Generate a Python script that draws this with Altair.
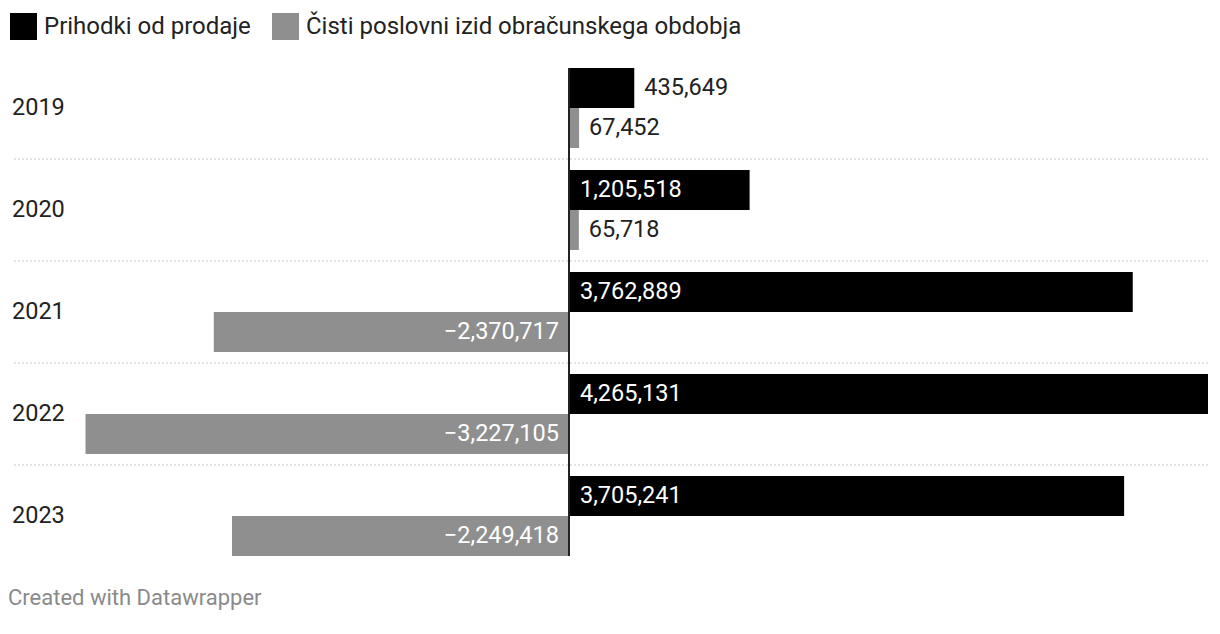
import altair as alt
import pandas as pd

years = ["2019", "2020", "2021", "2022", "2023"]
series_names = ["Prihodki od prodaje", "Čisti poslovni izid obračunskega obdobja"]
prihodki = [435649, 1205518, 3762889, 4265131, 3705241]
cisti = [67452, 65718, -2370717, -3227105, -2249418]
colors = ["#000000", "#8f8f8f"]

rows = []
for i, y in enumerate(years):
    rows.append({"year": y, "series": series_names[0], "value": prihodki[i]})
    rows.append({"year": y, "series": series_names[1], "value": cisti[i]})
df = pd.DataFrame(rows)
years_df = pd.DataFrame({"year": years})
sep_df = pd.DataFrame({"year": years[:-1]})

FONT = "Roboto"
FS = 23.5
W, H = 1196, 510

xscale = alt.Scale(domain=[-3717800, 4265131], nice=False, zero=False)
yscale = alt.Scale(domain=years, paddingInner=0, paddingOuter=0)
yoff = alt.YOffset("series:N", sort=series_names,
                   scale=alt.Scale(domain=series_names, paddingInner=0, paddingOuter=0.275))

base = alt.Chart(df).transform_calculate(
    zero="0",
    inside="abs(datum.value) > 800000",
)

seps = alt.Chart(sep_df).mark_rule(color="#c8c8c8", strokeWidth=1, strokeDash=[2, 2]).encode(
    y=alt.Y("year:N", scale=yscale, axis=None, bandPosition=1)
)

bars = base.mark_bar(strokeWidth=0).encode(
    x=alt.X("value:Q", scale=xscale, axis=None),
    y=alt.Y("year:N", scale=yscale, axis=None),
    yOffset=yoff,
    color=alt.Color("series:N", sort=series_names,
                    scale=alt.Scale(domain=series_names, range=colors),
                    legend=alt.Legend(title=None, orient="none", direction="horizontal",
                                      legendX=-2, legendY=-44, symbolType="square",
                                      symbolSize=729, symbolStrokeWidth=0, symbolOpacity=1,
                                      labelFont=FONT, labelFontSize=24, labelColor="#222222",
                                      labelLimit=0, labelOffset=7, columnPadding=21, padding=0)),
)

zero_line = alt.Chart(pd.DataFrame({"v": [0]})).mark_rule(color="#222222", strokeWidth=2).encode(
    x=alt.X("v:Q", scale=xscale), y=alt.value(11), y2=alt.value(H - 11)
)

txt_common = dict(font=FONT, fontSize=FS, baseline="middle")

out_lbl = base.transform_filter("!datum.inside").mark_text(
    align="left", dx=10, color="#222222", **txt_common
).encode(
    x=alt.X("value:Q", scale=xscale),
    y=alt.Y("year:N", scale=yscale),
    yOffset=yoff,
    text=alt.Text("value:Q", format=","),
)

in_pos = base.transform_filter("datum.inside && datum.value > 0").mark_text(
    align="left", dx=11, color="#ffffff", **txt_common
).encode(
    x=alt.X("zero:Q", scale=xscale),
    y=alt.Y("year:N", scale=yscale),
    yOffset=yoff,
    text=alt.Text("value:Q", format=","),
)

in_neg = base.transform_filter("datum.inside && datum.value < 0").mark_text(
    align="right", dx=-10, color="#ffffff", **txt_common
).encode(
    x=alt.X("zero:Q", scale=xscale),
    y=alt.Y("year:N", scale=yscale),
    yOffset=yoff,
    text=alt.Text("value:Q", format=","),
)

year_lbl = alt.Chart(years_df).mark_text(
    align="left", color="#222222", **txt_common
).encode(
    x=alt.value(0),
    y=alt.Y("year:N", scale=yscale),
    text="year:N",
)

chart = alt.layer(seps, bars, zero_line, out_lbl, in_pos, in_neg, year_lbl).properties(
    width=W, height=H,
    autosize=alt.AutoSizeParams(type="none"),
    padding={"left": 12, "top": 57, "right": 12, "bottom": 67},
    title=alt.TitleParams("Created with Datawrapper", orient="bottom", anchor="start",
                          font=FONT, fontSize=22, fontWeight="normal", color="#8a8a8a",
                          offset=21, dx=-2, baseline="top"),
).configure_view(strokeWidth=0)

chart.save("out.html", embed_options={"renderer": "svg", "actions": False})
